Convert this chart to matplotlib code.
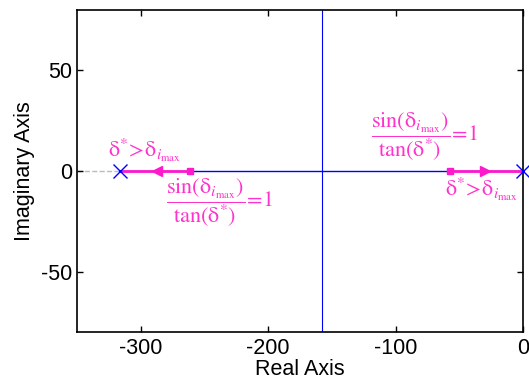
import matplotlib
matplotlib.use("Agg")
import matplotlib.pyplot as plt

# poles, breakaway, locus markers (real axis)
poles = [-316, 0]
breakaway = -158
squares = [-261, -57]
arrows_left = [-287]
arrows_right = [-30]

MAG = "#ff19cc"
TXT = "#ff33cc"
BLUE = "#0000ff"

plt.rcParams["font.family"] = ["Liberation Sans", "DejaVu Sans"]
plt.rcParams["mathtext.fontset"] = "stix"
plt.rcParams["axes.unicode_minus"] = False

fig = plt.figure(figsize=(5.29, 3.80), dpi=100)
ax = fig.add_axes([77 / 529, 48 / 380, 446 / 529, 322 / 380])

ax.plot([-350, poles[0]], [0, 0], color="#bbbbbb", lw=1, ls="--", zorder=1)
ax.plot([poles[0], poles[1]], [0, 0], color=BLUE, lw=1, zorder=2)
ax.axvline(breakaway, color=BLUE, lw=0.8, zorder=2)

ax.plot([poles[0], squares[0]], [0, 0], color=MAG, lw=2, zorder=3)
ax.plot([squares[1], poles[1]], [0, 0], color=MAG, lw=2, zorder=3)
ax.plot(squares, [0, 0], "s", color=MAG, ms=5, zorder=4)
ax.plot(arrows_left, [0], marker="<", color=MAG, ms=7, zorder=4)
ax.plot(arrows_right, [0], marker=">", color=MAG, ms=7, zorder=4)
ax.plot(poles, [0, 0], "x", color=BLUE, ms=10, mew=1, zorder=5, clip_on=False)

frac = r"$\dfrac{\mathrm{sin(δ_{\mathit{i}_{max}})}}{\mathrm{tan(δ^{*})}}\!=\!\mathit{1}$"
gt = r"$\mathrm{δ^{*}\!>\!δ_{\mathit{i}_{max}}}$"
ax.text(-326, 10.5, gt, color=TXT, fontsize=16, ha="left", va="center")
ax.text(-280, -2.5, frac, color=TXT, fontsize=16, ha="left", va="top")
ax.text(-119, 17, frac, color=TXT, fontsize=16, ha="left", va="center")
ax.text(-61, -9, gt, color=TXT, fontsize=16, ha="left", va="center")

ax.set_xlim(-350, 0)
ax.set_ylim(-80, 80)
ax.set_xticks([-300, -200, -100, 0])
ax.set_yticks([-50, 0, 50])
ax.tick_params(labelsize=15.5, direction="in", length=4, width=1,
               top=True, right=True)
ax.tick_params(axis="x", pad=4)
for s in ax.spines.values():
    s.set_linewidth(1.2)
ax.set_xlabel("Real Axis", fontsize=15.5, labelpad=0.5)
ax.set_ylabel("Imaginary Axis", fontsize=15.5, labelpad=4)

fig.savefig("out.png", dpi=100)
